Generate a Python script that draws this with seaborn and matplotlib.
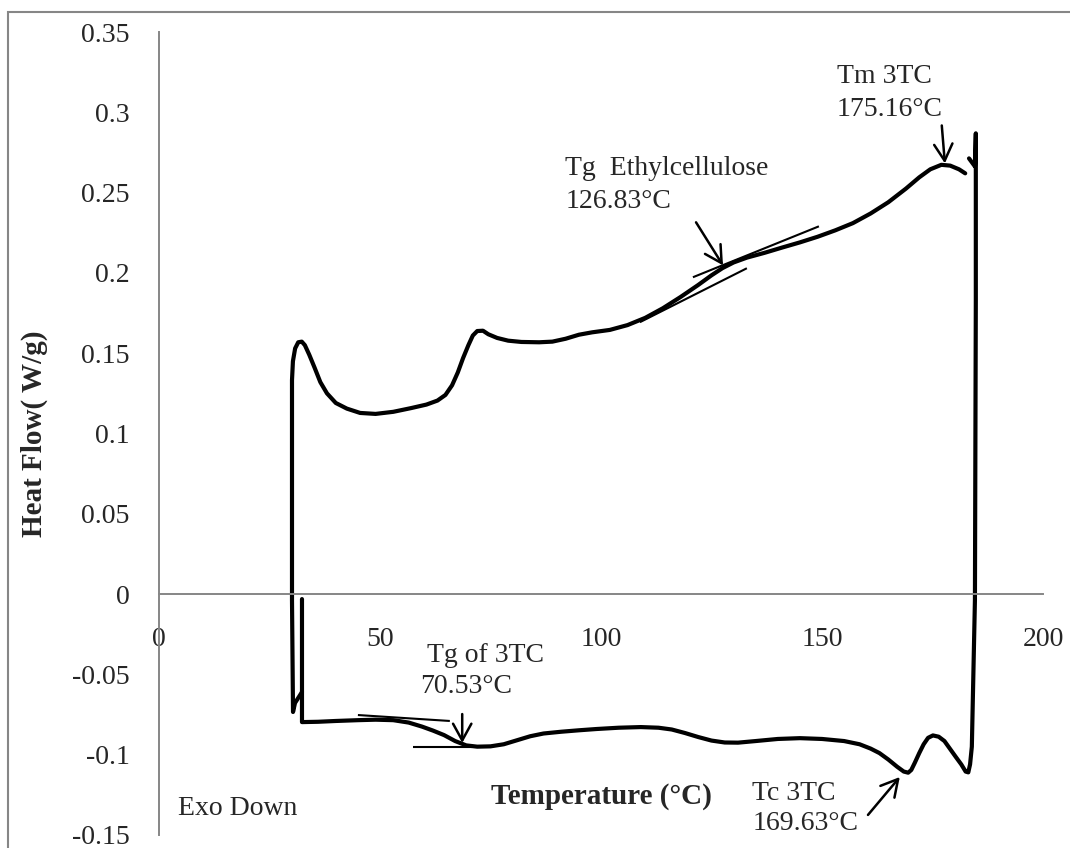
import matplotlib
matplotlib.use("Agg")
import matplotlib.pyplot as plt
import seaborn as sns
from matplotlib.patches import Rectangle

# ---------------- data ----------------
heat_T = [32.35, 30.77, 30.32, 30.09, 30.09, 30.3, 30.8, 31.5, 32.3, 33.0, 34.0, 35.2, 36.5,
          38.0, 40.0, 42.5, 45.5, 49.0, 53.0, 57.0, 60.5, 63.0, 64.8, 66.3, 67.6, 68.8, 70.0,
          71.0, 72.0, 73.3, 74.5, 76.5, 79.0, 82.0, 86.0, 89.0, 92.0, 95.0, 98.0, 102.0,
          106.0, 110.0, 114.0, 118.0, 122.0, 125.0, 127.5, 130.0, 133.0, 137.0, 141.0, 145.0,
          149.0, 153.0, 157.0, 161.0, 165.0, 169.0, 172.0, 174.5, 177.0, 179.0, 181.0, 182.4]
heat_HF = [-0.0610, -0.0678, -0.0734, -0.0037, 0.1332, 0.1450, 0.1530, 0.1568, 0.1572, 0.1550,
           0.1490, 0.1410, 0.1320, 0.1250, 0.1190, 0.1155, 0.1128, 0.1122, 0.1135, 0.1158,
           0.1180, 0.1205, 0.1240, 0.1300, 0.1380, 0.1470, 0.1550, 0.1610, 0.1638, 0.1640,
           0.1618, 0.1595, 0.1578, 0.1570, 0.1568, 0.1572, 0.1590, 0.1615, 0.1630, 0.1645,
           0.1675, 0.1720, 0.1780, 0.1850, 0.1925, 0.1985, 0.2030, 0.2065, 0.2095, 0.2125,
           0.2158, 0.2190, 0.2225, 0.2265, 0.2310, 0.2370, 0.2440, 0.2525, 0.2595, 0.2645,
           0.2673, 0.2668, 0.2645, 0.2620]

cool_T = [183.26, 184.6, 184.8, 184.8, 184.6, 183.9, 183.5, 183.1, 182.5, 181.5, 180.3, 179.0,
          177.7, 176.4, 175.1, 174.0, 173.0, 172.0, 171.0, 170.2, 169.5, 168.5, 167.0, 165.0,
          163.0, 161.0, 158.5, 155.0, 150.0, 145.0, 140.0, 135.0, 131.0, 128.0, 125.0, 122.0,
          119.0, 116.0, 113.0, 109.0, 104.0, 99.0, 95.0, 91.0, 87.0, 84.0, 81.0, 78.0, 75.0,
          72.0, 69.5, 67.0, 64.5, 62.0, 59.5, 56.5, 53.0, 49.0, 45.0, 40.0, 36.0, 32.35, 32.35]
cool_HF = [0.2713, 0.2663, 0.2869, 0.1829, -0.0037, -0.0950, -0.1060, -0.1110, -0.1105, -0.1060,
           -0.1015, -0.0965, -0.0915, -0.0888, -0.0880, -0.0895, -0.0935, -0.0990, -0.1050,
           -0.1095, -0.1112, -0.1105, -0.1075, -0.1030, -0.0990, -0.0962, -0.0935, -0.0915,
           -0.0902, -0.0897, -0.0902, -0.0915, -0.0925, -0.0924, -0.0912, -0.0890, -0.0865,
           -0.0843, -0.0832, -0.0828, -0.0832, -0.0840, -0.0848, -0.0857, -0.0868, -0.0885,
           -0.0910, -0.0935, -0.0948, -0.0950, -0.0942, -0.0915, -0.0878, -0.0850, -0.0825,
           -0.0800, -0.0785, -0.0782, -0.0785, -0.0790, -0.0795, -0.0797, -0.0031]

# tangent construction lines (start/end)
tan_ec_a_T = [120.8, 149.3]
tan_ec_a_HF = [0.1973, 0.2290]
tan_ec_b_T = [108.8, 133.0]
tan_ec_b_HF = [0.1693, 0.2029]
tan_3tc_a_T = [45.0, 65.8]
tan_3tc_a_HF = [-0.0753, -0.0790]
tan_3tc_b_T = [57.5, 70.8]
tan_3tc_b_HF = [-0.0952, -0.0952]

x_ticks = [0, 50, 100, 150, 200]
x_tick_labels = ["0", "50", "100", "150", "200"]
y_ticks = [-0.15, -0.1, -0.05, 0, 0.05, 0.1, 0.15, 0.2, 0.25, 0.3, 0.35]
y_tick_labels = ["-0.15", "-0.1", "-0.05", "0", "0.05", "0.1", "0.15", "0.2", "0.25", "0.3", "0.35"]

# annotations: (line1, line2, x1, y1, x2, y2, arrow_tail, arrow_head)
notes = [
    ("Tm 3TC", "175.16°C", 153.4, 0.318, 153.4, 0.298, (177.1, 0.2918), (177.8, 0.2682)),
    ("Tg  Ethylcellulose", "126.83°C", 91.9, 0.2607, 91.9, 0.2402, (121.5, 0.2315), (127.6, 0.2047)),
    ("Tg of 3TC", "70.53°C", 60.6, -0.0423, 59.0, -0.0616, (68.6, -0.0747), (68.6, -0.0927)),
    ("Tc 3TC", "169.63°C", 134.2, -0.128, 134.2, -0.1469, (160.4, -0.1375), (167.6, -0.1139)),
]

# ---------------- style ----------------
sns.set_theme(style="white")
plt.rcParams["font.family"] = ["Liberation Serif", "DejaVu Serif"]
plt.rcParams["axes.unicode_minus"] = False

fig = plt.figure(figsize=(10.70, 8.48), dpi=100)
ax = fig.add_axes([159 / 1070, 1 - 835 / 848, (1043 - 159) / 1070, (835 - 32) / 848])
ax.set_facecolor("white")

sns.lineplot(x=heat_T, y=heat_HF, sort=False, estimator=None, color="black", lw=3.0, ax=ax)
sns.lineplot(x=cool_T, y=cool_HF, sort=False, estimator=None, color="black", lw=3.0, ax=ax)

for tx, ty in [(tan_ec_a_T, tan_ec_a_HF), (tan_ec_b_T, tan_ec_b_HF),
               (tan_3tc_a_T, tan_3tc_a_HF), (tan_3tc_b_T, tan_3tc_b_HF)]:
    ax.plot(tx, ty, color="black", lw=1.5, solid_capstyle="butt")

ax.set_xlim(0, 200)
ax.set_ylim(-0.15, 0.35)
ax.set_xticks(x_ticks)
ax.set_xticklabels(x_tick_labels)
ax.set_yticks(y_ticks)
ax.set_yticklabels(y_tick_labels)
ax.tick_params(axis="x", length=0, pad=24, labelsize=20)
ax.tick_params(axis="y", length=0, pad=21, labelsize=20)
for lbl in ax.get_xticklabels():
    lbl.set_family(["Liberation Sans", "DejaVu Sans"])
    lbl.set_fontsize(20)
for lbl in ax.get_yticklabels():
    lbl.set_fontsize(20)

for s in ["top", "right"]:
    ax.spines[s].set_visible(False)
ax.spines["bottom"].set_position(("data", 0))
for s in ["left", "bottom"]:
    ax.spines[s].set_color("#868686")
    ax.spines[s].set_linewidth(1.4)

ax.set_xlabel("Temperature (°C)", fontsize=21, fontweight="bold", va="center")
ax.xaxis.set_label_coords(0.5, (-0.1263 + 0.15) / 0.5)
ax.set_ylabel("Heat Flow( W/g)", fontsize=21, fontweight="bold", va="center", ha="center")
ax.yaxis.set_label_coords((34 - 159) / 884, 0.5)

for l1, l2, x1, y1, x2, y2, tail, head in notes:
    ax.text(x1, y1, l1, fontsize=20, ha="left", va="baseline")
    ax.text(x2, y2, l2, fontsize=20, ha="left", va="baseline")
    ax.annotate("", xy=head, xytext=tail,
                arrowprops=dict(arrowstyle="->,head_length=0.6,head_width=0.33",
                                lw=1.8, color="black", mutation_scale=20,
                                shrinkA=0, shrinkB=0))

ax.text(4.3, -0.1375, "Exo Down", fontsize=20, ha="left", va="baseline")

# outer chart border
fig.add_artist(Rectangle((8 / 1070, -0.05), 1.2, 1 - 12 / 848 + 0.05,
                         transform=fig.transFigure, fill=False,
                         edgecolor="#868686", lw=1.5))

fig.savefig("out.png", dpi=100, facecolor="white")
